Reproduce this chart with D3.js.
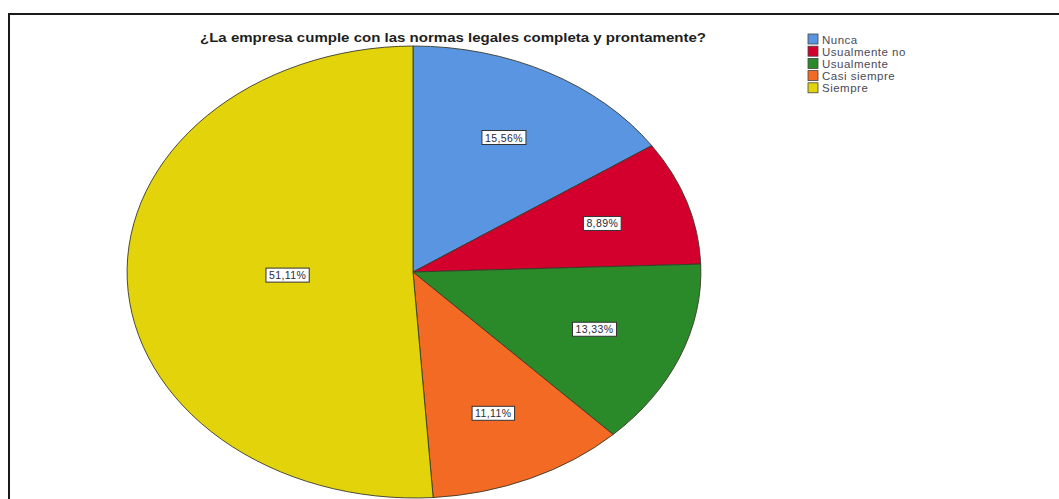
<!DOCTYPE html>
<html>
<head>
<meta charset="utf-8">
<script src="https://cdn.jsdelivr.net/npm/d3@7"></script>
<style>
  html, body { margin: 0; padding: 0; background: #fff; }
  svg { display: block; }
</style>
</head>
<body>
<svg id="chart" width="1059" height="499"></svg>
<script>
// Survey answers and their share of respondents (%)
const categories = ["Nunca", "Usualmente no", "Usualmente", "Casi siempre", "Siempre"];
const percentages = [15.56, 8.89, 13.33, 11.11, 51.11];
const sliceColors = ["#5a95e2", "#d3002e", "#2a8a2a", "#f26a24", "#e2d30a"];
const chartTitle = "¿La empresa cumple con las normas legales completa y prontamente?";

const svg = d3.select("#chart");
const W = 1059, H = 499;

// outer frame
svg.append("rect")
  .attr("x", 9).attr("y", 14)
  .attr("width", W + 20).attr("height", H + 20)
  .attr("fill", "#fff")
  .attr("stroke", "#1a1a1a")
  .attr("stroke-width", 2);

// title
svg.append("text")
  .attr("x", 453).attr("y", 42)
  .attr("text-anchor", "middle")
  .attr("font-family", "Liberation Sans, Arial, sans-serif")
  .attr("font-weight", "bold")
  .attr("font-size", 13.5)
  .attr("textLength", 506)
  .attr("lengthAdjust", "spacingAndGlyphs")
  .attr("fill", "#1e1e1e")
  .text(chartTitle);

// elliptical pie: unit-radius arcs stretched to the ellipse
const cx = 413, cy = 272, rx = 288, ry = 226;
const data = categories.map((c, i) => ({ name: c, value: percentages[i], color: sliceColors[i] }));
const pie = d3.pie().value(d => d.value).sort(null).startAngle(0).endAngle(2 * Math.PI);
const arcs = pie(data);
const arc = d3.arc().innerRadius(0).outerRadius(1);

const pieG = svg.append("g")
  .attr("transform", `translate(${cx},${cy}) scale(${rx},${ry})`);

pieG.selectAll("path")
  .data(arcs)
  .join("path")
  .attr("d", arc)
  .attr("fill", d => d.data.color)
  .attr("stroke", "#3a3a2a")
  .attr("stroke-width", 0.9)
  .attr("vector-effect", "non-scaling-stroke");

// value labels placed at each sector's centroid
const fmt = v => v.toFixed(2).replace(".", ",") + "%";
const labelG = svg.append("g");
arcs.forEach(d => {
  const theta = d.endAngle - d.startAngle;
  const mid = (d.startAngle + d.endAngle) / 2;
  const dist = (4 * Math.sin(theta / 2)) / (3 * theta) * 1.05;
  const x = cx + rx * dist * Math.sin(mid);
  const y = cy - ry * dist * Math.cos(mid);
  const g = labelG.append("g").attr("transform", `translate(${x},${y})`);
  const t = g.append("text")
    .attr("text-anchor", "middle")
    .attr("dy", "0.35em")
    .attr("font-family", "Liberation Sans, Arial, sans-serif")
    .attr("font-size", 10.5)
    .attr("letter-spacing", 0.4)
    .attr("fill", "#2a2a3a")
    .text(fmt(d.data.value));
  const bb = t.node().getBBox();
  g.insert("rect", "text")
    .attr("x", bb.x - 3).attr("y", bb.y - 1)
    .attr("width", bb.width + 6).attr("height", bb.height + 2)
    .attr("fill", "#fff")
    .attr("stroke", "#333")
    .attr("stroke-width", 1);
});

// legend
const legend = svg.append("g").attr("transform", "translate(808,34)");
const item = legend.selectAll("g")
  .data(data)
  .join("g")
  .attr("transform", (d, i) => `translate(0,${i * 12.2})`);
item.append("rect")
  .attr("width", 10).attr("height", 10)
  .attr("fill", d => d.color)
  .attr("stroke", "#444")
  .attr("stroke-width", 0.8);
item.append("text")
  .attr("x", 14).attr("y", 9.5)
  .attr("font-family", "Liberation Sans, Arial, sans-serif")
  .attr("font-size", 11.5)
  .attr("letter-spacing", 0.5)
  .attr("fill", "#4a4a58")
  .text(d => d.name);
</script>
</body>
</html>
